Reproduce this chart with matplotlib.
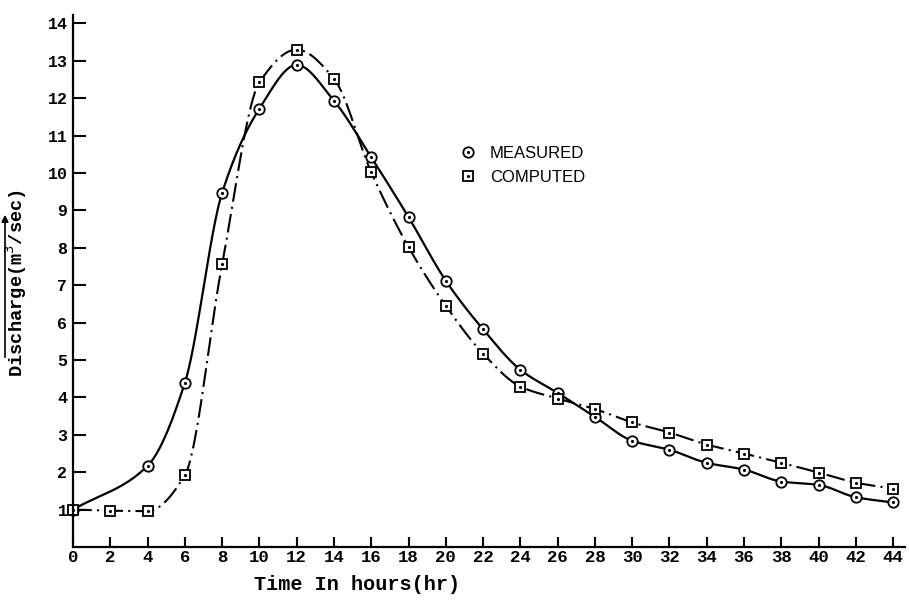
import numpy as np
import matplotlib
matplotlib.use("Agg")
import matplotlib.pyplot as plt
from matplotlib.lines import Line2D
from matplotlib.legend_handler import HandlerTuple
from matplotlib.ticker import FixedLocator
from matplotlib.patches import FancyArrowPatch

hours = [0, 2, 4, 6, 8, 10, 12, 14, 16, 18, 20, 22, 24, 26, 28, 30, 32, 34, 36, 38, 40, 42, 44]
measured_hours = [0, 4, 6, 8, 10, 12, 14, 16, 18, 20, 22, 24, 26, 28, 30, 32, 34, 36, 38, 40, 42, 44]
measured = [1.0, 2.17, 4.39, 9.47, 11.72, 12.89, 11.93, 10.42, 8.82, 7.12, 5.82, 4.74, 4.12, 3.48,
            2.84, 2.6, 2.25, 2.07, 1.75, 1.66, 1.33, 1.19]
computed = [1.0, 0.97, 0.96, 1.92, 7.56, 12.42, 13.3, 12.52, 10.02, 8.02, 6.45, 5.17, 4.29, 3.97,
            3.69, 3.33, 3.06, 2.74, 2.5, 2.25, 1.99, 1.72, 1.56]
xtick_labels = [str(h) for h in range(0, 46, 2)]
ytick_vals = list(range(1, 15))


def pchip(x, y, xs):
    # monotone cubic so the hand-drawn look doesn't overshoot
    x = np.asarray(x, float)
    y = np.asarray(y, float)
    h = np.diff(x)
    d = np.diff(y) / h
    m = np.zeros_like(y)
    for k in range(1, len(x) - 1):
        if d[k - 1] * d[k] > 0:
            w1 = 2 * h[k] + h[k - 1]
            w2 = h[k] + 2 * h[k - 1]
            m[k] = (w1 + w2) / (w1 / d[k - 1] + w2 / d[k])
    m[0] = d[0]
    m[-1] = d[-1]
    idx = np.clip(np.searchsorted(x, xs) - 1, 0, len(x) - 2)
    t = (xs - x[idx]) / h[idx]
    h00 = 2 * t**3 - 3 * t**2 + 1
    h10 = t**3 - 2 * t**2 + t
    h01 = -2 * t**3 + 3 * t**2
    h11 = t**3 - t**2
    return h00 * y[idx] + h10 * h[idx] * m[idx] + h01 * y[idx + 1] + h11 * h[idx] * m[idx + 1]


mono = {"family": "Liberation Mono", "weight": "bold"}

fig = plt.figure(figsize=(9.09, 6.02), dpi=100)
ax = fig.add_axes([73 / 909, 55 / 602, (905 - 73) / 909, (547 - 15) / 602])

xs_m = np.linspace(measured_hours[0], measured_hours[-1], 600)
xs_c = np.linspace(hours[0], hours[-1], 600)
ax.plot(xs_m, pchip(measured_hours, measured, xs_m), color="black", lw=1.6)
ax.plot(xs_c, pchip(hours, computed, xs_c), color="black", lw=1.5, dashes=(9, 2.5, 1, 2.5))

ax.plot(measured_hours, measured, "o", ms=7.5, mfc="white", mec="black", mew=1.3, clip_on=False)
ax.plot(measured_hours, measured, ".", ms=2.5, color="black", clip_on=False)
ax.plot(hours, computed, "s", ms=7, mfc="white", mec="black", mew=1.3, clip_on=False)
ax.plot(hours, computed, ".", ms=2.5, color="black", clip_on=False)

ax.set_xlim(0, 832 / 18.64)
ax.set_ylim(0, 532 / 37.4)

for s in ["top", "right"]:
    ax.spines[s].set_visible(False)
for s in ["left", "bottom"]:
    ax.spines[s].set_linewidth(1.6)

ax.set_xticks(range(0, 46, 2))
ax.set_xticklabels(xtick_labels, fontsize=12.5, **mono)
ax.xaxis.set_minor_locator(FixedLocator([10, 20, 30, 40]))
ax.tick_params(axis="x", which="major", direction="in", length=7, width=1.5, pad=2)
ax.tick_params(axis="x", which="minor", direction="in", length=16, width=1.5)

ax.set_yticks(ytick_vals)
ax.set_yticklabels([str(v) for v in ytick_vals], fontsize=12, **mono)
ax.yaxis.set_minor_locator(FixedLocator([5, 10]))
ax.tick_params(axis="y", which="major", direction="in", length=9, width=1.5, pad=4)
ax.tick_params(axis="y", which="minor", direction="in", length=17, width=1.5)

ax.set_xlabel("Time In hours(hr)", fontsize=14.5, **mono)
ax.xaxis.set_label_coords((357 - 73) / 832, -(575 - 547) / 532)
ax.set_ylabel("Discharge(m$^3$/sec)", fontsize=13.5, **mono)
ax.yaxis.set_label_coords(-(73 - 29) / 832, (547 - 283) / 532)

# arrow drawn beside the y label in the original
fig.add_artist(FancyArrowPatch(
    (5 / 909, 1 - 360 / 602), (5 / 909, 1 - 212 / 602), transform=fig.transFigure,
    arrowstyle="-|>", mutation_scale=10, color="black", lw=1.2))

h_meas = (Line2D([], [], ls="none", marker="o", ms=7.5, mfc="white", mec="black", mew=1.3),
          Line2D([], [], ls="none", marker=".", ms=2.5, color="black"))
h_comp = (Line2D([], [], ls="none", marker="s", ms=7, mfc="white", mec="black", mew=1.3),
          Line2D([], [], ls="none", marker=".", ms=2.5, color="black"))
ax.legend([h_meas, h_comp], ["MEASURED", "COMPUTED"], handler_map={tuple: HandlerTuple(ndivide=1)},
          loc="upper left", bbox_to_anchor=(460 / 909, 1 - 146 / 602), bbox_transform=fig.transFigure,
          frameon=False, borderpad=0, borderaxespad=0, handlelength=1.0, handletextpad=0.8,
          labelspacing=0.55, prop={"family": "Liberation Sans", "size": 12})

fig.savefig("out.png", dpi=100)
